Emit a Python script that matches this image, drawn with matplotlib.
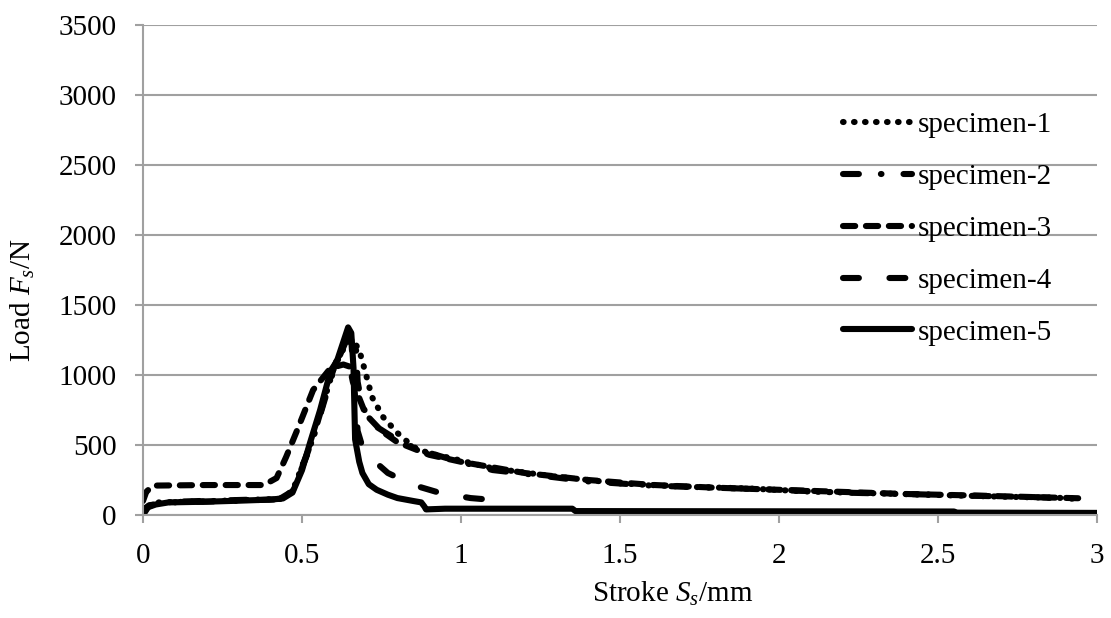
import matplotlib
matplotlib.use("Agg")
import matplotlib.pyplot as plt

plt.rcParams["font.family"] = "Liberation Serif"
plt.rcParams["mathtext.fontset"] = "custom"
plt.rcParams["mathtext.rm"] = "Liberation Serif"
plt.rcParams["mathtext.it"] = "Liberation Serif:italic"

# specimen-1 (dotted)
s1_x = [0.0, 0.01, 0.05, 0.2, 0.43, 0.47, 0.53, 0.6, 0.64, 0.66, 0.68, 0.70, 0.72, 0.755,
        0.8, 0.85, 0.9, 0.97, 1.1, 1.3, 1.5, 1.7, 1.9, 2.1, 2.3, 2.5, 2.7, 2.95]
s1_y = [0, 60, 90, 98, 115, 170, 520, 1050, 1230, 1250, 1178, 1014, 843, 700,
        586, 486, 440, 405, 333, 274, 226, 202, 190, 167, 155, 143, 131, 119]

# specimen-2 (dash-dot)
s2_x = [0.0, 0.01, 0.05, 0.2, 0.43, 0.47, 0.53, 0.6, 0.64, 0.655, 0.67, 0.675, 0.69,
        0.735, 0.8, 0.87, 0.975, 1.1, 1.22, 1.4, 1.6, 1.8, 2.0, 2.2, 2.4, 2.6, 2.8, 2.98]
s2_y = [0, 55, 88, 96, 112, 165, 510, 1040, 1250, 1280, 1180, 950, 771,
        629, 536, 464, 393, 321, 290, 240, 210, 195, 180, 160, 150, 138, 128, 112]

# specimen-3 (dashes)
s3_x = [0.0, 0.01, 0.03, 0.2, 0.38, 0.42, 0.45, 0.485, 0.535, 0.59, 0.63, 0.65, 0.66,
        0.70, 0.75, 0.8, 0.9, 1.0, 1.2, 1.4, 1.6, 1.8, 2.0, 2.2, 2.4, 2.6, 2.8, 2.97]
s3_y = [100, 164, 210, 214, 214, 264, 414, 607, 893, 1050, 1075, 1060, 950,
        720, 600, 520, 430, 380, 300, 250, 215, 195, 180, 165, 150, 140, 128, 118]

# specimen-4 (long dashes)
s4_x = [0.0, 0.02, 0.1, 0.43, 0.47, 0.53, 0.6, 0.64, 0.655, 0.665, 0.675, 0.69,
        0.73, 0.77, 0.85, 0.935, 1.03, 1.14]
s4_y = [0, 70, 95, 115, 170, 520, 1050, 1290, 1250, 900, 600, 486,
        380, 300, 214, 157, 121, 100]

# specimen-5 (solid)
s5_x = [0.0, 0.005, 0.015, 0.04, 0.08, 0.2, 0.3, 0.4, 0.44, 0.47, 0.5, 0.525, 0.557,
        0.59, 0.61, 0.645, 0.655, 0.662, 0.667, 0.68, 0.69, 0.71, 0.735, 0.77, 0.8,
        0.85, 0.875, 0.885, 0.89, 0.95, 1.35, 1.36, 2.55, 2.56, 3.0]
s5_y = [0, 30, 55, 75, 90, 95, 102, 110, 118, 160, 320, 514, 750,
        1030, 1100, 1340, 1300, 1050, 540, 380, 300, 220, 180, 145, 121,
        100, 90, 60, 40, 45, 45, 28, 25, 17, 15]

labels = ["specimen-1", "specimen-2", "specimen-3", "specimen-4", "specimen-5"]

fig = plt.figure(figsize=(11.11, 6.18), dpi=100)
ax = fig.add_axes([143 / 1111, 103 / 618, 954 / 1111, 490 / 618])

lw = 4.4
ax.plot(s1_x, s1_y, color="black", lw=lw, linestyle=(0, (0.1, 1.7)),
        dash_capstyle="round", label=labels[0])
ax.plot(s2_x, s2_y, color="black", lw=lw, linestyle=(0, (2.6, 3.6, 0.1, 3.6)),
        dash_capstyle="round", label=labels[1])
ax.plot(s3_x, s3_y, color="black", lw=lw, linestyle=(0, (2.0, 1.75)),
        dash_capstyle="round", label=labels[2])
ax.plot(s4_x, s4_y, color="black", lw=lw, linestyle=(0, (2.6, 5.0)),
        dash_capstyle="round", label=labels[3])
ax.plot(s5_x, s5_y, color="black", lw=lw, solid_capstyle="round", label=labels[4])

ax.set_xlim(0, 3)
ax.set_ylim(0, 3500)
ax.set_xticks([0, 0.5, 1, 1.5, 2, 2.5, 3])
ax.set_xticklabels(["0", "0.5", "1", "1.5", "2", "2.5", "3"])
ax.set_yticks(range(0, 3501, 500))

ax.grid(axis="y", color="#a0a0a0", lw=1.5)
ax.set_axisbelow(True)
for side in ["top", "right"]:
    ax.spines[side].set_visible(False)
for side in ["left", "bottom"]:
    ax.spines[side].set_color("#a0a0a0")
    ax.spines[side].set_linewidth(1.5)
ax.tick_params(axis="both", colors="#a0a0a0", labelcolor="black",
               labelsize=21, length=6, width=1.5, direction="out")
ax.tick_params(axis="y", pad=13)
ax.tick_params(axis="x", pad=14)

fig.text(673 / 1111, 1 - 594 / 618, r"Stroke $S_s$/mm", fontsize=21,
         ha="center", va="center")
fig.text(23 / 1111, 1 - 300 / 618, r"Load $F_s$/N", fontsize=21,
         ha="center", va="center", rotation=90)

ax.legend(loc="upper left", bbox_to_anchor=(843 / 1111, 1 - 112 / 618),
          bbox_transform=fig.transFigure, frameon=False, fontsize=21,
          handlelength=2.35, handletextpad=0.2, labelspacing=0.87,
          borderaxespad=0, borderpad=0)

fig.savefig("out.png", dpi=100)
